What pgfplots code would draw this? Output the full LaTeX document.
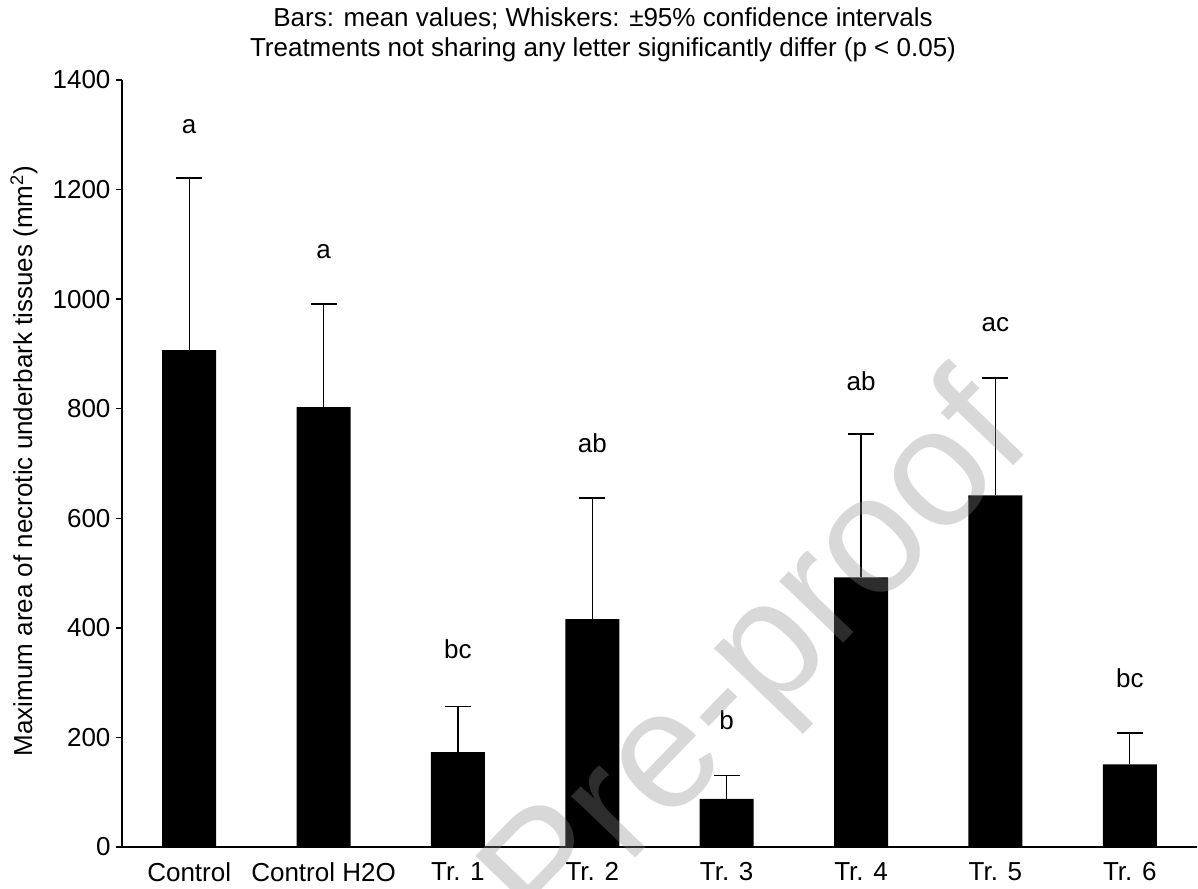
\documentclass[border=0pt]{standalone}
\usepackage{fontspec}
\setmainfont{Liberation Sans}
\usepackage{pgfplots}
\pgfplotsset{compat=1.18}
\begin{document}
\begin{tikzpicture}
\begin{axis}[
  at={(0pt,0pt)}, anchor=south west,
  scale only axis, width=1075pt, height=767pt,
  xmin=-0.5, xmax=7.5, ymin=0, ymax=1400,
  axis x line*=bottom, axis y line*=left,
  axis line style={line width=1.3pt, -},
  xtick={0,1,2,3,4,5,6,7},
  xticklabels={Control, Control H2O, Tr. 1, Tr. 2, Tr. 3, Tr. 4, Tr. 5, Tr. 6},
  x tick style={draw=none},
  ytick={0,200,400,600,800,1000,1200,1400},
  y tick style={line width=1.3pt, black},
  tick align=outside, major tick length=6pt,
  tick label style={font=\fontsize{26}{31}\selectfont},
  /pgf/number format/assume math mode=true,
  /pgf/number format/1000 sep={},
  xticklabel style={yshift=-6pt},
  yticklabel style={xshift=-2pt},
  ylabel={Maximum area of necrotic underbark tissues (mm\textsuperscript{2})},
  ylabel style={at={(axis description cs:-0.0912,0.503)}, anchor=center, font=\fontsize{26}{31}\selectfont},
  clip=false,
]
\addplot[ybar, bar width=54pt, fill=black, draw=none,
  error bars/.cd, y dir=plus, y explicit,
  error bar style={line width=1.3pt, black},
  error mark options={line width=1.3pt, black, mark size=13pt, rotate=90}]
  table[x=x, y=y, y error=e] {
x y e
0 907 314
1 803 188
2 173 84
3 416 221
4 88 42
5 492 262
6 642 214
7 151 57
};
\begin{scope}[every node/.style={font=\fontsize{26}{31}\selectfont, anchor=center}]
\node at (axis cs:0,1314) {a};
\node at (axis cs:1,1086) {a};
\node at (axis cs:2,361) {bc};
\node at (axis cs:3,737) {ab};
\node at (axis cs:4,232) {b};
\node at (axis cs:5,850) {ab};
\node at (axis cs:6,953) {ac};
\node at (axis cs:7,308) {bc};
\end{scope}
\end{axis}
\node[align=center, font=\fontsize{26}{30}\selectfont] at (481pt,812pt)
  {Bars: mean values; Whiskers: ±95\% confidence intervals\\Treatments not sharing any letter significantly differ (p < 0.05)};
\node[rotate=46, font=\fontsize{168}{168}\selectfont, text=black!46, opacity=0.33] at (640pt,182pt) {Pre-proof};
\pgfresetboundingbox
\path (-122pt,-41pt) rectangle (1076pt,847pt);
\end{tikzpicture}
\end{document}
